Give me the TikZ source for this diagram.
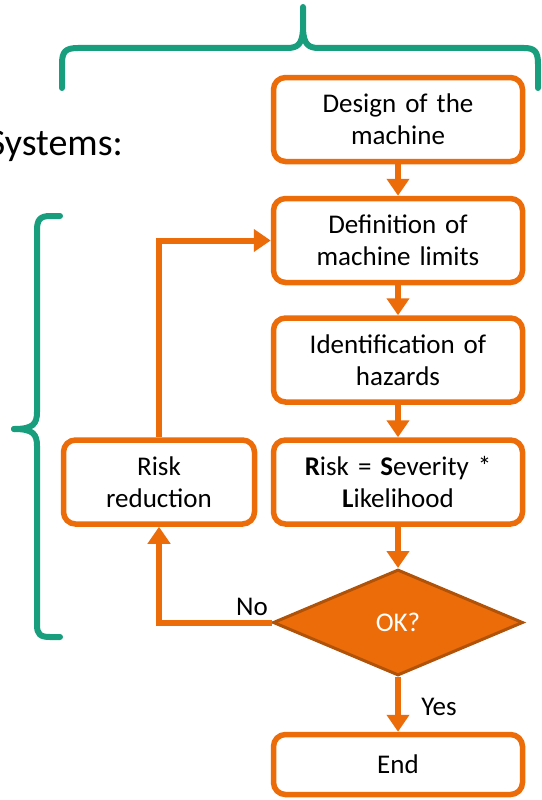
\documentclass[tikz,border=0pt]{standalone}
\usepackage{fontspec}
\setmainfont{Carlito}
\usetikzlibrary{arrows.meta,shapes.geometric}
\definecolor{flowOrange}{RGB}{236,108,10}
\definecolor{flowDark}{RGB}{176,82,8}
\definecolor{braceGreen}{RGB}{24,157,125}

\begin{document}
\begin{tikzpicture}[x=1pt, y=-1pt,
	module/.style={draw=flowOrange, line width=5.5pt, fill=white, rounded corners=12pt,
		minimum width=249pt, minimum height=84pt, inner sep=0pt,
		align=center, text width=240pt, font=\fontsize{27}{32}\selectfont},
	decision/.style={diamond, draw=flowDark, fill=flowOrange, line width=3pt,
		minimum width=250pt, minimum height=106pt, inner sep=0pt,
		text=white, font=\fontsize{27}{32}\selectfont},
	flow/.style={draw=flowOrange, line width=6pt, -{Triangle[width=22pt,length=17pt]}},
	lbl/.style={font=\fontsize{27}{32}\selectfont, inner sep=0pt},
	curly/.style={draw=braceGreen, line width=6pt, line cap=round, line join=round}
	]
	\useasboundingbox (0, 0) rectangle (541, 800);
	
	% braces
	\draw [curly] (62, 88) -- (62, 64) .. controls (62, 52) and (65, 48) .. (78, 48) -- (287, 48)
		.. controls (298, 48) and (302, 44) .. (303, 30) -- (303, 7);
	\draw [curly] (303, 30) .. controls (304, 44) and (308, 48) .. (319, 48) -- (524, 48)
		.. controls (535, 48) and (538, 52) .. (538, 64) -- (538, 88);
	\draw [curly] (60, 216) -- (50, 216) .. controls (40, 216) and (37, 220) .. (37, 230) -- (37, 412)
		.. controls (37, 424) and (33, 429) .. (14, 429);
	\draw [curly] (14, 429) .. controls (33, 429) and (37, 434) .. (37, 446) -- (37, 625)
		.. controls (37, 634) and (40, 637) .. (50, 637) -- (60, 637);
	\node [anchor=base east, inner sep=0pt, font=\fontsize{38}{44}\selectfont] (systems) at (123, 155) {Systems:};
	
	% modules
	\node [module] (design) at (398, 119.5) {Design of the\\machine};
	\node [module] (limits) at (398, 240.5) {Definition of\\machine limits};
	\node [module] (hazards) at (398, 360) {Identification of\\hazards};
	\node [module] (risk) at (398, 482) {\textbf{R}isk = \textbf{S}everity *\\\textbf{L}ikelihood};
	\node [module, minimum width=191pt, text width=180pt] (reduction) at (159, 482) {Risk\\reduction};
	\node [decision] (ok) at (398, 622.5) {OK?};
	\node [module, minimum height=60pt] (finish) at (398, 764.5) {End};
	
	% lines
	\draw [flow] (design) -- (limits);
	\draw [flow] (limits) -- (hazards);
	\draw [flow] (hazards) -- (risk);
	\draw [flow] (risk) -- (ok);
	\draw [flow] (ok) -- (finish);
	\draw [flow] (ok.west) -| (reduction.south);
	\draw [flow] (reduction.north) |- (limits.west);
	
	\node [lbl] (no) at (252, 607) {No};
	\node [lbl] (yes) at (439, 707) {Yes};
\end{tikzpicture}
\end{document}
